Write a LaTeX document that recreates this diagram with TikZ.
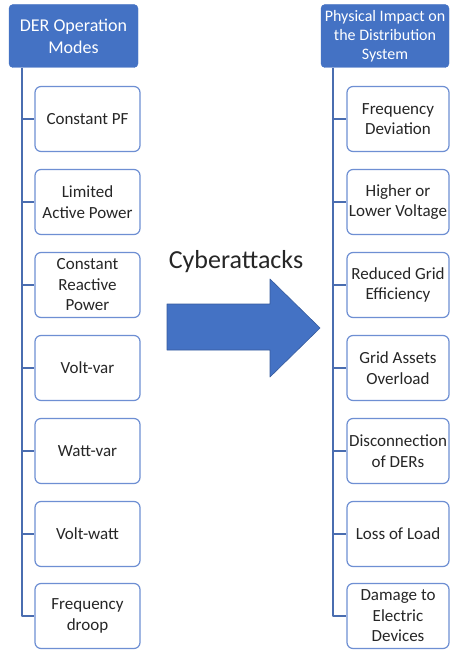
\documentclass[tikz,border=0pt]{standalone}
\usepackage{fontspec}
\setmainfont{Carlito}
\usetikzlibrary{arrows.meta,positioning,calc}
\definecolor{hdblue}{HTML}{4472C4}
\definecolor{boxline}{HTML}{6E8FD3}
\definecolor{linkblue}{HTML}{4A6DB0}
\definecolor{txtgray}{HTML}{262626}

\begin{document}
\begin{tikzpicture}[x=1pt,y=-1pt,line join=round,
    header/.style={draw=hdblue,fill=hdblue,rounded corners=4pt,text=white,align=center,
      minimum height=63pt,inner sep=1pt},
    item/.style={draw=boxline,line width=1.2pt,fill=white,rounded corners=6pt,text=txtgray,
      align=center,minimum height=65pt,inner sep=1pt,font=\fontsize{17}{20.5}\selectfont},
    link/.style={linkblue,line width=1.6pt}]
  \useasboundingbox[fill=white] (0,0) rectangle (450,652);

  % left column
  \node[header,minimum width=129pt,font=\fontsize{18}{22}\selectfont] (lhead) at (73.5,36) {DER Operation\\Modes};
  \node[item,minimum width=105pt] (l1) at (87.5,119) {Constant PF};
  \node[item,minimum width=105pt] (l2) at (87.5,202) {Limited\\Active Power};
  \node[item,minimum width=105pt] (l3) at (87.5,285) {Constant\\Reactive\\Power};
  \node[item,minimum width=105pt] (l4) at (87.5,368) {Volt-var};
  \node[item,minimum width=105pt] (l5) at (87.5,451) {Watt-var};
  \node[item,minimum width=105pt] (l6) at (87.5,534) {Volt-watt};
  \node[item,minimum width=105pt] (l7) at (87.5,616) {Frequency\\droop};
  \coordinate (lspine) at (22,0);
  \draw[link] (lhead.south -| lspine) |- (l7.west);
  \foreach \i in {1,...,6}
    \draw[link] (l\i.west -| lspine) -- (l\i.west);

  % right column
  \node[header,minimum width=128pt,font=\fontsize{16}{19}\selectfont] (rhead) at (385,36) {Physical Impact on\\the Distribution\\System};
  \node[item,minimum width=102pt] (r1) at (398,119) {Frequency\\Deviation};
  \node[item,minimum width=102pt] (r2) at (398,202) {Higher or\\Lower Voltage};
  \node[item,minimum width=102pt] (r3) at (398,285) {Reduced Grid\\Efficiency};
  \node[item,minimum width=102pt] (r4) at (398,368) {Grid Assets\\Overload};
  \node[item,minimum width=102pt] (r5) at (398,451) {Disconnection\\of DERs};
  \node[item,minimum width=102pt] (r6) at (398,534) {Loss of Load};
  \node[item,minimum width=102pt] (r7) at (398,616) {Damage to\\Electric\\Devices};
  \coordinate (rspine) at (333,0);
  \draw[link] (rhead.south -| rspine) |- (r7.west);
  \foreach \i in {1,...,6}
    \draw[link] (r\i.west -| rspine) -- (r\i.west);

  % big arrow in the middle
  \node[text=txtgray,font=\fontsize{26}{30}\selectfont] (attack) at (236,262) {Cyberattacks};
  \fill[hdblue,draw=hdblue!80!black,line width=0.6pt]
    (167,304) -- (270,304) -- (270,279) -- (320,328) -- (270,377) -- (270,350) -- (167,350) -- cycle;
\end{tikzpicture}
\end{document}
